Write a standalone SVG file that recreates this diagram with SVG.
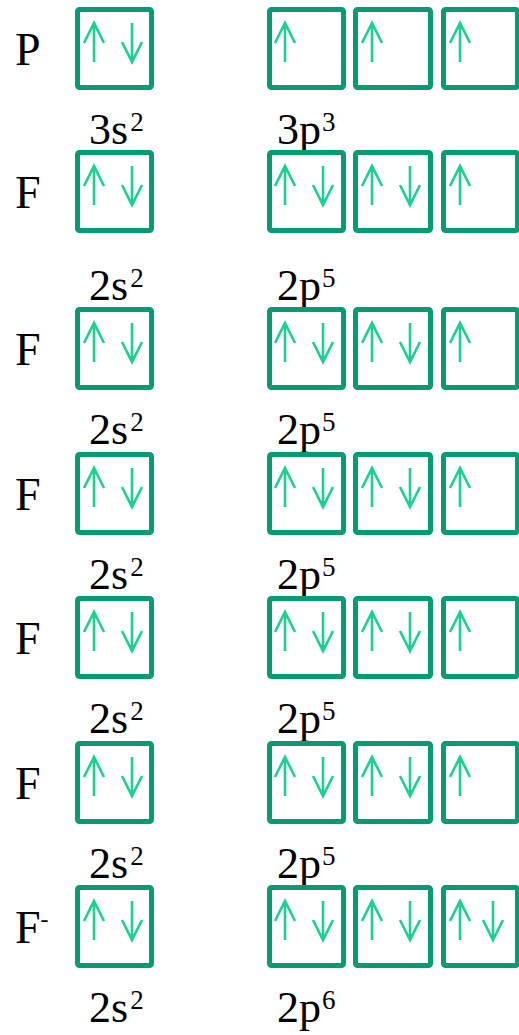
<svg xmlns="http://www.w3.org/2000/svg" xmlns:xlink="http://www.w3.org/1999/xlink" width="519" height="1035" viewBox="0 0 519 1035">
<style>
.box{fill:none;stroke:#079B73;stroke-width:5;}
.arr{fill:none;stroke:#1DCF95;stroke-width:2.6;}
.t{font-family:"Liberation Serif","Times New Roman",serif;font-size:44px;fill:#000;}
.el{font-size:46px;}
.sup{font-size:27px;}
.supm{font-size:24px;}
</style>
<defs>
<path id="up" class="arr" d="M0,39 V0 M-10,20 L0,0 L10,20"/>
<path id="dn" class="arr" d="M0,0 V39 M-10,19 L0,39 L10,19"/>
<g id="sbox"><rect class="box" x="77.5" y="2.5" width="74" height="78" rx="2"/></g>
<g id="pbox"><rect class="box" x="269.5" y="2.5" width="74" height="78" rx="2"/><rect class="box" x="355.5" y="2.5" width="75" height="78" rx="2"/><rect class="box" x="443.5" y="2.5" width="74" height="78" rx="2"/></g>
</defs>

<g id="row-P" transform="translate(0,7)">
<text class="t el" x="15" y="58">P</text>
<use xlink:href="#sbox"/><use xlink:href="#pbox"/>
<use xlink:href="#up" x="94" y="16"/><use xlink:href="#dn" x="132" y="16"/>
<use xlink:href="#up" x="285" y="16"/><use xlink:href="#up" x="372" y="16"/><use xlink:href="#up" x="460" y="16"/>
<text class="t" x="89" y="137">3s<tspan class="sup" dx="2" dy="-13">2</tspan></text>
<text class="t" x="277" y="137">3p<tspan class="sup" dx="1" dy="-13">3</tspan></text>
</g>

<g id="row-F1" transform="translate(0,150)">
<text class="t el" x="15" y="58">F</text>
<use xlink:href="#sbox"/><use xlink:href="#pbox"/>
<use xlink:href="#up" x="94" y="16"/><use xlink:href="#dn" x="132" y="16"/>
<use xlink:href="#up" x="285" y="16"/><use xlink:href="#dn" x="323" y="16"/>
<use xlink:href="#up" x="372" y="16"/><use xlink:href="#dn" x="410" y="16"/>
<use xlink:href="#up" x="460" y="16"/>
<text class="t" x="89" y="150">2s<tspan class="sup" dx="2" dy="-13">2</tspan></text>
<text class="t" x="277" y="150">2p<tspan class="sup" dx="1" dy="-13">5</tspan></text>
</g>

<g id="row-F2" transform="translate(0,307)">
<text class="t el" x="15" y="58">F</text>
<use xlink:href="#sbox"/><use xlink:href="#pbox"/>
<use xlink:href="#up" x="94" y="16"/><use xlink:href="#dn" x="132" y="16"/>
<use xlink:href="#up" x="285" y="16"/><use xlink:href="#dn" x="323" y="16"/>
<use xlink:href="#up" x="372" y="16"/><use xlink:href="#dn" x="410" y="16"/>
<use xlink:href="#up" x="460" y="16"/>
<text class="t" x="89" y="137">2s<tspan class="sup" dx="2" dy="-13">2</tspan></text>
<text class="t" x="277" y="137">2p<tspan class="sup" dx="1" dy="-13">5</tspan></text>
</g>

<g id="row-F3" transform="translate(0,452)">
<text class="t el" x="15" y="58">F</text>
<use xlink:href="#sbox"/><use xlink:href="#pbox"/>
<use xlink:href="#up" x="94" y="16"/><use xlink:href="#dn" x="132" y="16"/>
<use xlink:href="#up" x="285" y="16"/><use xlink:href="#dn" x="323" y="16"/>
<use xlink:href="#up" x="372" y="16"/><use xlink:href="#dn" x="410" y="16"/>
<use xlink:href="#up" x="460" y="16"/>
<text class="t" x="89" y="137">2s<tspan class="sup" dx="2" dy="-13">2</tspan></text>
<text class="t" x="277" y="137">2p<tspan class="sup" dx="1" dy="-13">5</tspan></text>
</g>

<g id="row-F4" transform="translate(0,596)">
<text class="t el" x="15" y="58">F</text>
<use xlink:href="#sbox"/><use xlink:href="#pbox"/>
<use xlink:href="#up" x="94" y="16"/><use xlink:href="#dn" x="132" y="16"/>
<use xlink:href="#up" x="285" y="16"/><use xlink:href="#dn" x="323" y="16"/>
<use xlink:href="#up" x="372" y="16"/><use xlink:href="#dn" x="410" y="16"/>
<use xlink:href="#up" x="460" y="16"/>
<text class="t" x="89" y="137">2s<tspan class="sup" dx="2" dy="-13">2</tspan></text>
<text class="t" x="277" y="137">2p<tspan class="sup" dx="1" dy="-13">5</tspan></text>
</g>

<g id="row-F5" transform="translate(0,741)">
<text class="t el" x="15" y="58">F</text>
<use xlink:href="#sbox"/><use xlink:href="#pbox"/>
<use xlink:href="#up" x="94" y="16"/><use xlink:href="#dn" x="132" y="16"/>
<use xlink:href="#up" x="285" y="16"/><use xlink:href="#dn" x="323" y="16"/>
<use xlink:href="#up" x="372" y="16"/><use xlink:href="#dn" x="410" y="16"/>
<use xlink:href="#up" x="460" y="16"/>
<text class="t" x="89" y="137">2s<tspan class="sup" dx="2" dy="-13">2</tspan></text>
<text class="t" x="277" y="137">2p<tspan class="sup" dx="1" dy="-13">5</tspan></text>
</g>

<g id="row-Fminus" transform="translate(0,885)">
<text class="t el" x="15" y="58">F<tspan class="supm" dy="-16">-</tspan></text>
<use xlink:href="#sbox"/><use xlink:href="#pbox"/>
<use xlink:href="#up" x="94" y="16"/><use xlink:href="#dn" x="132" y="16"/>
<use xlink:href="#up" x="285" y="16"/><use xlink:href="#dn" x="323" y="16"/>
<use xlink:href="#up" x="372" y="16"/><use xlink:href="#dn" x="410" y="16"/>
<use xlink:href="#up" x="460" y="16"/><use xlink:href="#dn" x="493" y="16"/>
<text class="t" x="89" y="137">2s<tspan class="sup" dx="2" dy="-13">2</tspan></text>
<text class="t" x="277" y="137">2p<tspan class="sup" dx="1" dy="-13">6</tspan></text>
</g>
</svg>
